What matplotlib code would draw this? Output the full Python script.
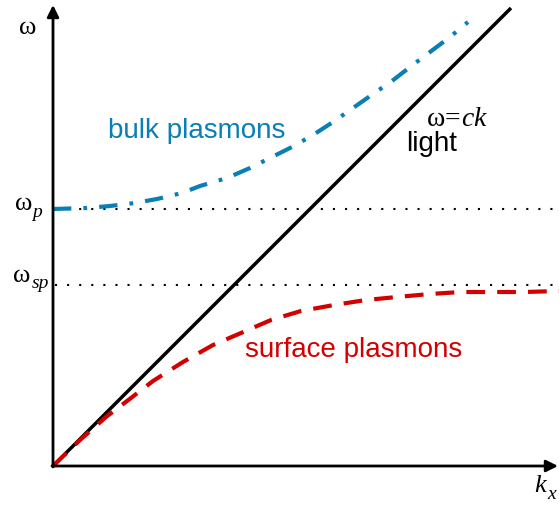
import matplotlib
matplotlib.use("Agg")
import matplotlib.pyplot as plt

plt.rcParams["mathtext.fontset"] = "custom"
plt.rcParams["mathtext.rm"] = "Liberation Serif"
plt.rcParams["mathtext.it"] = "Liberation Serif:italic"

# dispersion curves, k and omega in arbitrary units
light_k = [0, 458]
light_w = [0, 458]

bulk_k = [0, 34, 57, 82, 104, 129, 147, 174, 197, 217, 239, 260, 280, 300, 320, 339, 357, 377, 397, 415]
bulk_w = [257, 258, 260, 263, 267, 273, 280, 288, 298, 308, 319, 331, 344, 358, 372, 385, 399, 414, 429, 444]

surf_k = [0, 27, 53, 78, 100, 130, 160, 188, 218, 248, 281, 313, 344, 377, 408, 440, 472, 506]
surf_w = [0, 26, 49, 68, 85, 104, 121, 133, 146, 155, 161, 166, 169, 172, 174, 174, 174, 175]

w_p = 257
w_sp = 181

blue = "#0a7fb5"
red = "#d40000"

fig = plt.figure(figsize=(5.59, 5.05), dpi=100)
ax = fig.add_axes([0, 0, 1, 1])
ax.set_xlim(-53, 506)
ax.set_ylim(-39, 466)
ax.axis("off")

# axes with arrow heads
arrow = dict(arrowstyle="-|>,head_length=0.5,head_width=0.25", lw=2, color="black",
             mutation_scale=14, shrinkA=0, shrinkB=0)
ax.annotate("", xy=(0, 461), xytext=(0, -1), arrowprops=arrow)
ax.annotate("", xy=(505, 0), xytext=(-1, 0), arrowprops=arrow)

# reference levels
ax.plot([2, 506], [w_p, w_p], color="black", lw=1.5, ls=(0, (1, 4.8)))
ax.plot([2, 506], [w_sp, w_sp], color="black", lw=1.5, ls=(0, (1, 4.8)))

ax.plot(light_k, light_w, color="black", lw=2.5, solid_capstyle="butt")
ax.plot(bulk_k, bulk_w, color=blue, lw=3, ls=(0, (4.4, 2.9, 0.9, 2.9)), dash_capstyle="butt")
ax.plot(surf_k, surf_w, color=red, lw=3, ls=(0, (4.5, 2.9)), dash_capstyle="butt")

# axis symbols
serif = "Liberation Serif"
ax.text(-25, 438, "ω", family=serif, fontsize=19, ha="center", va="center")
ax.text(-29, 256, "ω", family=serif, fontsize=19, ha="center", va="baseline")
ax.text(-21, 249, "p", family=serif, style="italic", fontsize=14, ha="left", va="baseline")
ax.text(-31, 184, "ω", family=serif, fontsize=19, ha="center", va="baseline")
ax.text(-21, 178, "sp", family=serif, style="italic", fontsize=14, ha="left", va="baseline")
ax.text(481, -26, "k", family=serif, style="italic", fontsize=19, ha="left", va="baseline")
ax.text(494, -33, "x", family=serif, style="italic", fontsize=14, ha="left", va="baseline")

# curve labels
ax.text(404, 348, r"$\mathrm{\omega}\!=\!ck$", fontsize=20, ha="center", va="center")
ax.text(379, 322, "light", family="Liberation Sans", fontsize=20, ha="center", va="center")
ax.text(144, 335, "bulk plasmons", family="Liberation Sans", fontsize=20, color=blue,
        ha="center", va="center")
ax.text(301, 116, "surface plasmons", family="Liberation Sans", fontsize=20, color=red,
        ha="center", va="center")

fig.savefig("out.png", dpi=100)
